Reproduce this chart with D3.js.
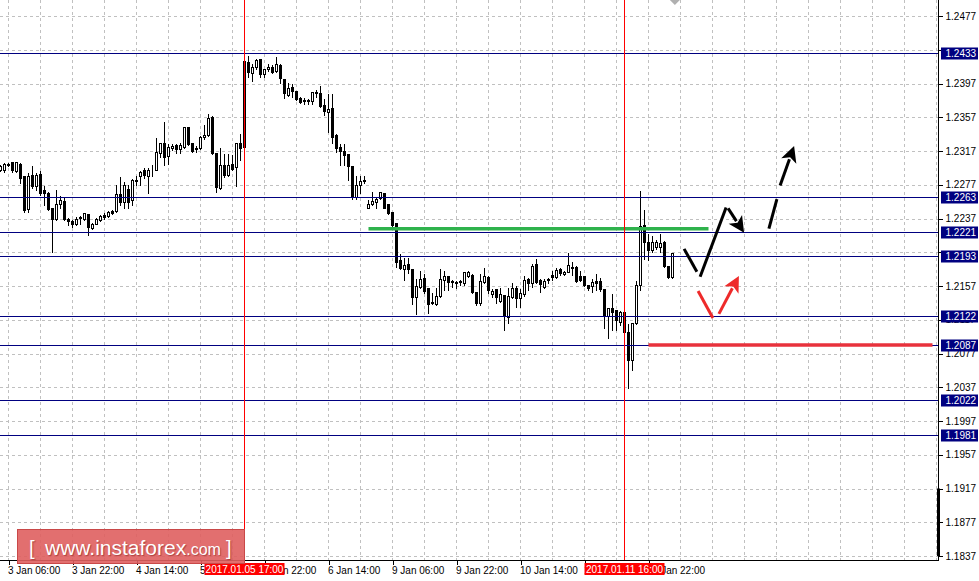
<!DOCTYPE html>
<html>
<head>
<meta charset="utf-8">
<script src="https://cdn.jsdelivr.net/npm/d3@7"></script>
<style>
  body { margin: 0; background: #fff; }
  svg { display: block; font-family: "Liberation Sans", Arial, sans-serif; }
</style>
</head>
<body>
<svg id="chart"></svg>
<script>
// EURUSD H1, 3 Jan - 12 Jan 2017. Bar index 0 = 3 Jan 06:00
var firstBar = -2;
// [open, high, low, close]
var ohlc = [
  [1.2295, 1.2302, 1.2293, 1.2299], [1.2295, 1.2304, 1.2292, 1.2302], [1.2301, 1.2304, 1.2299, 1.2302],
  [1.2304, 1.2305, 1.2292, 1.2294], [1.2293, 1.2305, 1.2292, 1.2304], [1.2302, 1.2304, 1.2279, 1.2285],
  [1.2287, 1.2288, 1.2245, 1.2247], [1.2248, 1.2292, 1.2245, 1.2287], [1.2288, 1.2301, 1.2273, 1.2276],
  [1.2276, 1.2292, 1.2271, 1.2289], [1.2290, 1.2295, 1.2265, 1.2267], [1.2271, 1.2277, 1.2253, 1.2267],
  [1.2267, 1.2270, 1.2247, 1.2248], [1.2250, 1.2251, 1.2197, 1.2237], [1.2237, 1.2272, 1.2235, 1.2254],
  [1.2254, 1.2265, 1.2250, 1.2259], [1.2258, 1.2262, 1.2235, 1.2236], [1.2237, 1.2239, 1.2229, 1.2234],
  [1.2234, 1.2237, 1.2227, 1.2230], [1.2231, 1.2240, 1.2229, 1.2237], [1.2238, 1.2241, 1.2231, 1.2239],
  [1.2237, 1.2245, 1.2235, 1.2243], [1.2242, 1.2243, 1.2218, 1.2227], [1.2226, 1.2233, 1.2224, 1.2231],
  [1.2231, 1.2239, 1.2230, 1.2237], [1.2235, 1.2242, 1.2234, 1.2240], [1.2241, 1.2245, 1.2237, 1.2239],
  [1.2240, 1.2247, 1.2239, 1.2245], [1.2246, 1.2248, 1.2242, 1.2243], [1.2246, 1.2278, 1.2245, 1.2266],
  [1.2266, 1.2287, 1.2253, 1.2257], [1.2257, 1.2282, 1.2250, 1.2277], [1.2272, 1.2278, 1.2249, 1.2257],
  [1.2259, 1.2285, 1.2253, 1.2283], [1.2281, 1.2288, 1.2277, 1.2283], [1.2287, 1.2294, 1.2277, 1.2292],
  [1.2294, 1.2298, 1.2285, 1.2288], [1.2287, 1.2298, 1.2267, 1.2294], [1.2294, 1.2302, 1.2287, 1.2295],
  [1.2295, 1.2334, 1.2294, 1.2316], [1.2315, 1.2328, 1.2310, 1.2326], [1.2326, 1.2353, 1.2300, 1.2310],
  [1.2311, 1.2326, 1.2302, 1.2322], [1.2321, 1.2326, 1.2318, 1.2323], [1.2324, 1.2326, 1.2315, 1.2319],
  [1.2319, 1.2328, 1.2315, 1.2324], [1.2322, 1.2347, 1.2321, 1.2346], [1.2346, 1.2347, 1.2324, 1.2325],
  [1.2326, 1.2328, 1.2316, 1.2317], [1.2321, 1.2324, 1.2316, 1.2319], [1.2321, 1.2336, 1.2319, 1.2334],
  [1.2334, 1.2349, 1.2331, 1.2336], [1.2336, 1.2362, 1.2335, 1.2356], [1.2357, 1.2360, 1.2314, 1.2315],
  [1.2315, 1.2316, 1.2268, 1.2274], [1.2273, 1.2322, 1.2272, 1.2301], [1.2301, 1.2315, 1.2286, 1.2288],
  [1.2289, 1.2315, 1.2287, 1.2301], [1.2302, 1.2313, 1.2294, 1.2296], [1.2298, 1.2327, 1.2276, 1.2326],
  [1.2326, 1.2338, 1.2306, 1.2321], [1.2322, 1.2425, 1.2320, 1.2424], [1.2422, 1.2431, 1.2405, 1.2411],
  [1.2409, 1.2421, 1.2400, 1.2417], [1.2417, 1.2427, 1.2414, 1.2425], [1.2426, 1.2427, 1.2405, 1.2408],
  [1.2408, 1.2415, 1.2405, 1.2414], [1.2414, 1.2421, 1.2412, 1.2416], [1.2417, 1.2420, 1.2410, 1.2411],
  [1.2412, 1.2430, 1.2411, 1.2420], [1.2419, 1.2421, 1.2398, 1.2404], [1.2402, 1.2404, 1.2380, 1.2386],
  [1.2383, 1.2399, 1.2382, 1.2392], [1.2393, 1.2398, 1.2381, 1.2388], [1.2388, 1.2389, 1.2377, 1.2379],
  [1.2380, 1.2382, 1.2374, 1.2375], [1.2376, 1.2381, 1.2373, 1.2377], [1.2377, 1.2380, 1.2373, 1.2376],
  [1.2376, 1.2388, 1.2373, 1.2387], [1.2386, 1.2390, 1.2381, 1.2387], [1.2386, 1.2395, 1.2369, 1.2370],
  [1.2372, 1.2380, 1.2360, 1.2364], [1.2363, 1.2386, 1.2340, 1.2367], [1.2368, 1.2386, 1.2326, 1.2334],
  [1.2336, 1.2338, 1.2316, 1.2321], [1.2322, 1.2326, 1.2300, 1.2317], [1.2317, 1.2326, 1.2300, 1.2312],
  [1.2313, 1.2315, 1.2283, 1.2299], [1.2299, 1.2300, 1.2260, 1.2262], [1.2262, 1.2288, 1.2260, 1.2277],
  [1.2277, 1.2288, 1.2267, 1.2282], [1.2282, 1.2288, 1.2279, 1.2283], [1.2250, 1.2260, 1.2249, 1.2254],
  [1.2254, 1.2270, 1.2253, 1.2258], [1.2257, 1.2264, 1.2250, 1.2260], [1.2261, 1.2270, 1.2260, 1.2268],
  [1.2267, 1.2268, 1.2249, 1.2250], [1.2254, 1.2255, 1.2242, 1.2243], [1.2245, 1.2246, 1.2228, 1.2229],
  [1.2232, 1.2233, 1.2180, 1.2186], [1.2188, 1.2196, 1.2177, 1.2178], [1.2177, 1.2191, 1.2164, 1.2182],
  [1.2183, 1.2191, 1.2172, 1.2177], [1.2177, 1.2178, 1.2136, 1.2144], [1.2144, 1.2166, 1.2124, 1.2157],
  [1.2156, 1.2176, 1.2155, 1.2165], [1.2166, 1.2172, 1.2149, 1.2151], [1.2155, 1.2156, 1.2125, 1.2136],
  [1.2138, 1.2150, 1.2136, 1.2137], [1.2136, 1.2156, 1.2135, 1.2145], [1.2145, 1.2178, 1.2144, 1.2165],
  [1.2164, 1.2176, 1.2152, 1.2169], [1.2169, 1.2170, 1.2152, 1.2162], [1.2163, 1.2165, 1.2156, 1.2162],
  [1.2162, 1.2164, 1.2155, 1.2161], [1.2162, 1.2165, 1.2158, 1.2163], [1.2161, 1.2175, 1.2158, 1.2174],
  [1.2169, 1.2176, 1.2168, 1.2174], [1.2170, 1.2172, 1.2149, 1.2150], [1.2150, 1.2151, 1.2135, 1.2137],
  [1.2137, 1.2172, 1.2135, 1.2163], [1.2162, 1.2180, 1.2161, 1.2169], [1.2168, 1.2170, 1.2149, 1.2152],
  [1.2147, 1.2155, 1.2144, 1.2151], [1.2153, 1.2155, 1.2137, 1.2144], [1.2139, 1.2156, 1.2138, 1.2147],
  [1.2146, 1.2147, 1.2105, 1.2121], [1.2120, 1.2156, 1.2113, 1.2145], [1.2144, 1.2162, 1.2143, 1.2155],
  [1.2155, 1.2158, 1.2132, 1.2143], [1.2143, 1.2155, 1.2132, 1.2149], [1.2148, 1.2170, 1.2145, 1.2164],
  [1.2165, 1.2168, 1.2152, 1.2161], [1.2161, 1.2184, 1.2156, 1.2181], [1.2183, 1.2190, 1.2161, 1.2162],
  [1.2164, 1.2166, 1.2150, 1.2159], [1.2156, 1.2166, 1.2155, 1.2163], [1.2164, 1.2168, 1.2161, 1.2165],
  [1.2170, 1.2176, 1.2164, 1.2168], [1.2168, 1.2180, 1.2166, 1.2176], [1.2177, 1.2180, 1.2170, 1.2172],
  [1.2171, 1.2176, 1.2170, 1.2174], [1.2174, 1.2197, 1.2173, 1.2182], [1.2180, 1.2187, 1.2170, 1.2178],
  [1.2180, 1.2182, 1.2162, 1.2163], [1.2169, 1.2176, 1.2163, 1.2164], [1.2169, 1.2170, 1.2157, 1.2158],
  [1.2158, 1.2159, 1.2152, 1.2155], [1.2157, 1.2166, 1.2150, 1.2162], [1.2163, 1.2172, 1.2152, 1.2161],
  [1.2163, 1.2168, 1.2151, 1.2153], [1.2153, 1.2155, 1.2107, 1.2121], [1.2121, 1.2132, 1.2095, 1.2131],
  [1.2131, 1.2149, 1.2105, 1.2126], [1.2128, 1.2130, 1.2105, 1.2117], [1.2114, 1.2128, 1.2111, 1.2126],
  [1.2126, 1.2127, 1.2097, 1.2102], [1.2102, 1.2113, 1.2036, 1.2069], [1.2069, 1.2114, 1.2057, 1.2113],
  [1.2113, 1.2164, 1.2112, 1.2158], [1.2158, 1.2271, 1.2152, 1.2228], [1.2229, 1.2248, 1.2189, 1.2209],
  [1.2209, 1.2220, 1.2188, 1.2200], [1.2200, 1.2217, 1.2197, 1.2209], [1.2203, 1.2213, 1.2201, 1.2209],
  [1.2203, 1.2220, 1.2197, 1.2208], [1.2209, 1.2212, 1.2180, 1.2181], [1.2181, 1.2182, 1.2167, 1.2168],
  [1.2168, 1.2197, 1.2167, 1.2196]
];

var priceTicks = [1.1837, 1.1877, 1.1917, 1.1957, 1.1997, 1.2037, 1.2077, 1.2117, 1.2157,
  1.2197, 1.2237, 1.2277, 1.2317, 1.2357, 1.2397, 1.2437, 1.2477];
var timeTicks = [0, 16, 32, 48, 64, 80, 96, 112, 128, 144, 160];
var timeLabels = ["3 Jan 06:00", "3 Jan 22:00", "4 Jan 14:00", "5 Jan 06:00", "5 Jan 22:00",
  "6 Jan 14:00", "9 Jan 06:00", "9 Jan 22:00", "10 Jan 14:00", "11 Jan 06:00", "11 Jan 22:00"];

var levels = [1.2433, 1.2263, 1.2221, 1.2193, 1.2122, 1.2087, 1.2022, 1.1981];
var markerBars = [59, 154];
var markerLabels = ["2017.01.05 17:00", "2017.01.11 16:00"];

// [fromBar, toBar, price]
var greenLine = [90, 175, 1.2225];
var redLine = [160, 231, 1.2087];

// hand drawn forecast strokes: [[bar, price], [bar, price]]
var blackStrokes = [[[168.9, 1.2201], [172.1, 1.2174]], [[172.9, 1.2168], [179.4, 1.2250]],
  [[190.1, 1.2225], [192.1, 1.2260]]];
var blackArrows = [[[179.9, 1.2249], [183.9, 1.2220]], [[192.9, 1.2276], [196.4, 1.2323]]];
var redStrokes = [[[172.4, 1.2151], [176.1, 1.2119]]];
var redArrows = [[[177.6, 1.2124], [182.6, 1.2169]]];

var svgWidth = 979;
var svgHeight = 581;
var plotRight = 938.5;
var plotBottom = 560.5;

var svg = d3.select("#chart")
  .attr("width", svgWidth)
  .attr("height", svgHeight);

svg.append("rect").attr("width", svgWidth).attr("height", svgHeight).attr("fill", "#fff");

var x = d3.scaleLinear().domain([firstBar, 232]).range([0.5, 936.5]);
var y = d3.scaleLinear().domain([1.1837, 1.2477]).range([556, 16]);

var navy = "#000080";

// grid
var grid = svg.append("g").attr("shape-rendering", "crispEdges")
  .attr("stroke", "#c0c0c0").attr("stroke-dasharray", "3,3");
grid.selectAll("line.h").data(priceTicks).enter().append("line")
  .attr("x1", 0).attr("x2", plotRight)
  .attr("y1", d => Math.round(y(d)) + 0.5).attr("y2", d => Math.round(y(d)) + 0.5);
grid.selectAll("line.v").data(d3.range(0, 233, 8)).enter().append("line")
  .attr("x1", d => x(d)).attr("x2", d => x(d))
  .attr("y1", 0).attr("y2", plotBottom);

// candles
var candles = svg.append("g").attr("shape-rendering", "crispEdges")
  .selectAll("g").data(ohlc).enter().append("g");
candles.append("line")
  .attr("x1", (d, i) => x(firstBar + i)).attr("x2", (d, i) => x(firstBar + i))
  .attr("y1", d => Math.round(y(d[1])) + 0.5).attr("y2", d => Math.round(y(d[2])) + 0.5)
  .attr("stroke", "#000");
candles.append("rect")
  .attr("x", (d, i) => x(firstBar + i) - 1)
  .attr("width", 2)
  .attr("y", d => Math.round(y(Math.max(d[0], d[3]))) + 0.5)
  .attr("height", d => Math.max(0, Math.round(y(Math.min(d[0], d[3]))) - Math.round(y(Math.max(d[0], d[3])))))
  .attr("fill", d => d[3] > d[0] ? "#fff" : "#000")
  .attr("stroke", "#000");

// support / resistance levels
svg.append("g").attr("shape-rendering", "crispEdges")
  .selectAll("line").data(levels).enter().append("line")
  .attr("x1", 0).attr("x2", plotRight)
  .attr("y1", d => Math.round(y(d)) + 0.5).attr("y2", d => Math.round(y(d)) + 0.5)
  .attr("stroke", navy);

// green and red horizontal segments
svg.append("line")
  .attr("x1", x(greenLine[0])).attr("x2", x(greenLine[1]))
  .attr("y1", y(greenLine[2])).attr("y2", y(greenLine[2]))
  .attr("stroke", "#2fb24c").attr("stroke-width", 3.5);
svg.append("line")
  .attr("x1", x(redLine[0])).attr("x2", x(redLine[1]))
  .attr("y1", y(redLine[2])).attr("y2", y(redLine[2]))
  .attr("stroke", "#e8323c").attr("stroke-width", 3.5);

// vertical time markers
svg.append("g").attr("shape-rendering", "crispEdges")
  .selectAll("line").data(markerBars).enter().append("line")
  .attr("x1", d => x(d)).attr("x2", d => x(d))
  .attr("y1", 0).attr("y2", plotBottom)
  .attr("stroke", "#ff0000");

// forecast strokes and arrows
function drawStrokes(list, color) {
  svg.append("g").selectAll("line").data(list).enter().append("line")
    .attr("x1", d => x(d[0][0])).attr("y1", d => y(d[0][1]))
    .attr("x2", d => x(d[1][0])).attr("y2", d => y(d[1][1]))
    .attr("stroke", color).attr("stroke-width", 3);
}
function drawArrows(list, color) {
  var headLen = 16, headHalf = 8;
  var g = svg.append("g");
  list.forEach(function(d) {
    var x0 = x(d[0][0]), y0 = y(d[0][1]), x1 = x(d[1][0]), y1 = y(d[1][1]);
    var dx = x1 - x0, dy = y1 - y0, len = Math.sqrt(dx * dx + dy * dy);
    var ux = dx / len, uy = dy / len;
    var bx = x1 - ux * headLen, by = y1 - uy * headLen;
    g.append("line")
      .attr("x1", x0).attr("y1", y0).attr("x2", bx + ux * 2).attr("y2", by + uy * 2)
      .attr("stroke", color).attr("stroke-width", 3);
    g.append("path")
      .attr("d", "M" + x1 + "," + y1 +
        "L" + (bx - uy * headHalf) + "," + (by + ux * headHalf) +
        "L" + (bx + ux * 4) + "," + (by + uy * 4) +
        "L" + (bx + uy * headHalf) + "," + (by - ux * headHalf) + "Z")
      .attr("fill", color);
  });
}
drawStrokes(blackStrokes, "#000");
drawArrows(blackArrows, "#000");
drawStrokes(redStrokes, "#ee2a2a");
drawArrows(redArrows, "#ee2a2a");

// chart shift marker
var shiftX = x(166.6);
svg.append("path")
  .attr("d", "M" + (shiftX - 5) + ",0L" + (shiftX + 5) + ",0L" + shiftX + ",5Z")
  .attr("fill", "#b0b0b0");

// price axis (labels hidden where a level tag sits on them)
var rightAxis = d3.axisRight(y).tickValues(priceTicks).tickSize(4).tickSizeOuter(0)
  .tickFormat(d3.format(".4f"));
var ra = svg.append("g")
  .attr("transform", `translate(${plotRight}, 0)`)
  .attr("shape-rendering", "crispEdges")
  .call(rightAxis);
ra.select(".domain").remove();
ra.selectAll("text")
  .attr("x", 7)
  .style("font-family", "Liberation Sans, Arial, sans-serif")
  .style("font-size", "10px")
  .attr("fill", "#000")
  .style("display", d => levels.some(l => Math.abs(y(l) - y(d)) < 4) ? "none" : null);

// time axis
var bottomAxis = d3.axisBottom(x).tickValues(timeTicks).tickSize(4).tickSizeOuter(0)
  .tickFormat((d, i) => timeLabels[i]);
var ba = svg.append("g")
  .attr("transform", `translate(0, ${plotBottom})`)
  .attr("shape-rendering", "crispEdges")
  .call(bottomAxis);
ba.select(".domain").remove();
ba.selectAll("text")
  .style("text-anchor", "start")
  .attr("x", -1)
  .attr("y", 6)
  .style("font-family", "Liberation Sans, Arial, sans-serif")
  .style("font-size", "10px")
  .attr("fill", "#000");

// axis lines
svg.append("line").attr("x1", plotRight).attr("x2", plotRight).attr("y1", 0).attr("y2", plotBottom)
  .attr("stroke", "#000").attr("shape-rendering", "crispEdges");
svg.append("line").attr("x1", 0).attr("x2", plotRight).attr("y1", plotBottom).attr("y2", plotBottom)
  .attr("stroke", "#000").attr("shape-rendering", "crispEdges");
svg.append("rect")
  .attr("x", plotRight - 1.5).attr("width", 3)
  .attr("y", y(1.1917)).attr("height", y(1.1837) - y(1.1917))
  .attr("fill", "#000");

// level labels
var levelTags = svg.append("g").selectAll("g").data(levels).enter().append("g")
  .attr("transform", d => `translate(${plotRight + 2.5}, ${Math.round(y(d)) + 0.5})`);
levelTags.append("rect")
  .attr("x", 0).attr("y", -6).attr("width", 37).attr("height", 12)
  .attr("fill", navy);
levelTags.append("text")
  .attr("x", 4.5).attr("dy", "0.35em")
  .style("font-size", "10px")
  .attr("fill", "#fff")
  .text(d => d.toFixed(4));

// time marker labels
var markerTags = svg.append("g").selectAll("g").data(markerBars).enter().append("g")
  .attr("transform", d => `translate(${x(d)}, 563)`);
markerTags.append("rect")
  .attr("x", -40).attr("y", 0).attr("width", 80).attr("height", 12)
  .attr("fill", "#ff0000");
markerTags.append("text")
  .attr("x", 0).attr("y", 10)
  .style("text-anchor", "middle")
  .style("font-size", "10px")
  .attr("fill", "#fff")
  .text((d, i) => markerLabels[i]);

// watermark
var wm = svg.append("g");
wm.append("rect")
  .attr("x", 17.5).attr("y", 529.5).attr("width", 227).attr("height", 34)
  .attr("fill", "#df5f5f").attr("fill-opacity", 0.9)
  .attr("stroke", "#c94848");
var wmText = wm.append("text")
  .attr("x", 29).attr("y", 555)
  .attr("fill", "#fff")
  .style("font-family", "Liberation Sans, Arial, sans-serif")
  .style("text-shadow", "1px 1px 1px rgba(120,20,20,0.5)");
wmText.append("tspan").style("font-size", "20px").text("[");
wmText.append("tspan").attr("x", 45).style("font-size", "21px").text("www.instaforex");
wmText.append("tspan").style("font-size", "16px").text(".com");
wmText.append("tspan").attr("x", 226).style("font-size", "20px").text("]");
</script>
</body>
</html>
